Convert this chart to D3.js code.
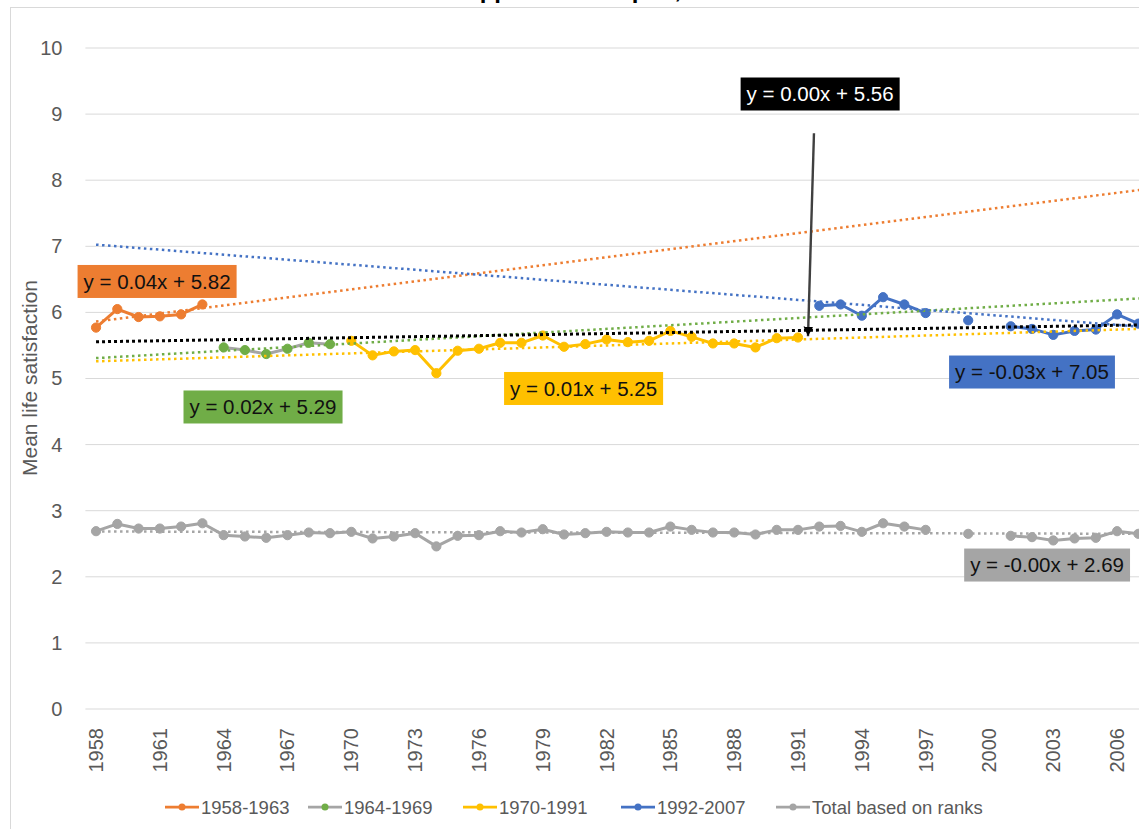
<!DOCTYPE html>
<html><head><meta charset="utf-8">
<script src="https://cdn.jsdelivr.net/npm/d3@7"></script>
<style>html,body{margin:0;padding:0;overflow:hidden;background:#fff}svg{display:block}</style>
</head><body>
<svg id="chart" width="1139" height="829"></svg>
<script>
// ---------- data ----------
const years = d3.range(1958, 2008);
const tickYears = [1958,1961,1964,1967,1970,1973,1976,1979,1982,1985,1988,1991,1994,1997,2000,2003,2006];
const yTicks = [0,1,2,3,4,5,6,7,8,9,10];

const seriesNames = ["1958-1963","1964-1969","1970-1991","1992-2007","Total based on ranks"];
const seriesStart = [1958, 1964, 1970, 1992, 1958];
const lineColors   = ["#ED7D31","#A5A5A5","#FFC000","#4472C4","#A5A5A5"];
const markerColors = ["#ED7D31","#70AD47","#FFC000","#4472C4","#A5A5A5"];

const v1958_1963 = [5.77,6.05,5.93,5.94,5.97,6.12];
const v1964_1969 = [5.47,5.43,5.37,5.45,5.54,5.52];
const v1970_1991 = [5.57,5.35,5.41,5.43,5.08,5.42,5.45,5.54,5.54,5.65,5.48,5.52,5.59,5.55,5.57,5.72,5.63,5.53,5.53,5.47,5.61,5.62];
const v1992_2007 = [6.10,6.12,5.95,6.23,6.12,5.99,null,5.88,null,5.79,5.75,5.66,5.72,5.74,5.97,5.83];
const vTotal = [2.69,2.80,2.73,2.73,2.76,2.81,2.63,2.61,2.59,2.63,2.67,2.66,2.68,2.58,2.61,2.66,2.46,2.62,2.63,2.69,
                2.67,2.72,2.64,2.66,2.68,2.67,2.67,2.76,2.71,2.67,2.67,2.64,2.71,2.71,2.76,2.77,2.68,2.81,2.76,2.71,
                null,2.65,null,2.62,2.60,2.55,2.58,2.59,2.69,2.65];
const seriesValues = [v1958_1963, v1964_1969, v1970_1991, v1992_2007, vTotal];

// trendlines (x = category index, 1 = 1958), slope/intercept as seen in the picture
const trendNames  = ["1958-1963","1964-1969","1970-1991","1992-2007","Total based on ranks","All"];
const trendSlope  = [0.0406, 0.0184, 0.0100, -0.0253, -0.0007, 0.0052];
const trendInter  = [5.82, 5.29, 5.25, 7.05, 2.686, 5.55];
const trendColors = ["#ED7D31","#70AD47","#FFC000","#4472C4","#A5A5A5","#000000"];

// equation labels: text, fill, text colour, centre (fractional year, value)
const labelText  = ["y = 0.04x + 5.82","y = 0.02x + 5.29","y = 0.01x + 5.25","y = -0.03x + 7.05","y = -0.00x + 2.69","y = 0.00x + 5.56"];
const labelFill  = ["#ED7D31","#70AD47","#FFC000","#4472C4","#A5A5A5","#000000"];
const labelInk   = ["#111","#111","#111","#111","#111","#fff"];
const labelYear  = [1960.87, 1965.85, 1980.92, 2002.0, 2002.71, 1992.04];
const labelValue = [6.468, 4.569, 4.849, 5.098, 2.178, 9.304];

// arrow annotation (fractional year, value)
const arrowFrom = [1991.75, 8.71];
const arrowTo   = [1991.47, 5.64];

// ---------- layout ----------
const svg = d3.select("#chart");
const FONT = "'Liberation Sans', Arial, sans-serif";
const x = d3.scaleBand().domain(years).range([85.4, 1149]).padding(0);
const bw = x.bandwidth();
const cx = yr => x(yr) + bw / 2;
const xl = d3.scaleLinear().domain([1958, 2007]).range([cx(1958), cx(2007)]);
const y = d3.scaleLinear().domain([0, 10]).range([709, 48]);

// frame
svg.append("rect").attr("x",10.5).attr("y",7.5).attr("width",1400).attr("height",1000)
  .attr("fill","none").attr("stroke","#D9D9D9");

// title (mostly outside the picture, as in the reference)
svg.append("text").attr("x",449).attr("y",-2).attr("font-family",FONT).attr("font-weight","bold")
  .attr("font-size",24).attr("fill","#000").text("Happiness in Japan, 1958-2007");

// gridlines
svg.append("g").selectAll("line").data(yTicks).join("line")
  .attr("x1", 85.4).attr("x2", 1149).attr("y1", d => y(d)).attr("y2", d => y(d))
  .attr("stroke", "#D9D9D9").attr("stroke-width", 1);

// y axis
const gy = svg.append("g").attr("transform","translate(85.4,0)")
  .call(d3.axisLeft(y).tickValues(yTicks).tickSize(0).tickPadding(23).tickFormat(d3.format("d")));
gy.select(".domain").remove();
gy.selectAll("text").attr("font-family",FONT).attr("font-size",20).attr("fill","#595959");

// x axis
const gx = svg.append("g").attr("transform","translate(0,709)")
  .call(d3.axisBottom(x).tickValues(tickYears).tickSize(0));
gx.select(".domain").remove();
gx.selectAll("text").attr("font-family",FONT).attr("font-size",20).attr("fill","#595959")
  .attr("transform","rotate(-90)").attr("x",-19).attr("y",0).attr("dy","0.35em").style("text-anchor","end");

// axis title
svg.append("text").attr("transform","translate(37,378) rotate(-90)").attr("text-anchor","middle")
  .attr("font-family",FONT).attr("font-size",21).attr("fill","#595959").text("Mean life satisfaction");

// series
const line = d3.line().defined(d => d.v != null).x(d => cx(d.year)).y(d => y(d.v));
seriesValues.forEach((vals, i) => {
  const pts = vals.map((v, k) => ({year: seriesStart[i] + k, v}));
  const g = svg.append("g");
  g.append("path").datum(pts).attr("d", line).attr("fill","none")
    .attr("stroke", lineColors[i]).attr("stroke-width", 3).attr("stroke-linejoin","round");
  g.selectAll("circle").data(pts.filter(d => d.v != null)).join("circle")
    .attr("cx", d => cx(d.year)).attr("cy", d => y(d.v)).attr("r", 4.6)
    .attr("fill", markerColors[i]).attr("stroke", markerColors[i]).attr("stroke-width", 1);
});

// trendlines
const tEnd = 2007.55;
trendSlope.forEach((m, i) => {
  const f = yr => trendInter[i] + m * (yr - 1957);
  svg.append("line")
    .attr("x1", xl(1958)).attr("y1", y(f(1958)))
    .attr("x2", xl(tEnd)).attr("y2", y(f(tEnd)))
    .attr("stroke", trendColors[i]).attr("stroke-width", i === 5 ? 3 : 2.5)
    .attr("stroke-dasharray", i === 5 ? "3,3" : "2.5,3.5");
});

// arrow
svg.append("defs").append("marker").attr("id","ah").attr("viewBox","0 0 10 10")
  .attr("refX",10).attr("refY",5).attr("markerWidth",4).attr("markerHeight",4)
  .attr("markerUnits","strokeWidth").attr("orient","auto")
  .append("path").attr("d","M0,0L10,5L0,10Z").attr("fill","#000");
svg.append("line")
  .attr("x1", xl(arrowFrom[0])).attr("y1", y(arrowFrom[1]))
  .attr("x2", xl(arrowTo[0])).attr("y2", y(arrowTo[1]))
  .attr("stroke","#404040").attr("stroke-width",2.4).attr("marker-end","url(#ah)");

// equation labels
labelText.forEach((t, i) => {
  const g = svg.append("g");
  const txt = g.append("text").attr("x", xl(labelYear[i])).attr("y", y(labelValue[i]))
    .attr("text-anchor","middle").attr("dy","0.36em")
    .attr("font-family",FONT).attr("font-size",20.5).attr("fill",labelInk[i]).text(t);
  const bb = txt.node().getBBox();
  g.insert("rect","text").attr("x", bb.x - 6).attr("y", y(labelValue[i]) - 16.5)
    .attr("width", bb.width + 12).attr("height", 33).attr("fill", labelFill[i]);
});

// legend
const legX = [165, 308, 463, 621, 776];
const legY = 807;
seriesNames.forEach((n, i) => {
  const g = svg.append("g").attr("transform", `translate(${legX[i]},${legY})`);
  g.append("line").attr("x1",0).attr("x2",34).attr("y1",0).attr("y2",0)
    .attr("stroke", lineColors[i]).attr("stroke-width", 2.75);
  g.append("circle").attr("cx",17).attr("cy",0).attr("r",3.5).attr("fill",markerColors[i]);
  g.append("text").attr("x",36).attr("y",0).attr("dy","0.36em")
    .attr("font-family",FONT).attr("font-size",18.5).attr("fill","#595959").text(n);
});
</script>
</body></html>
